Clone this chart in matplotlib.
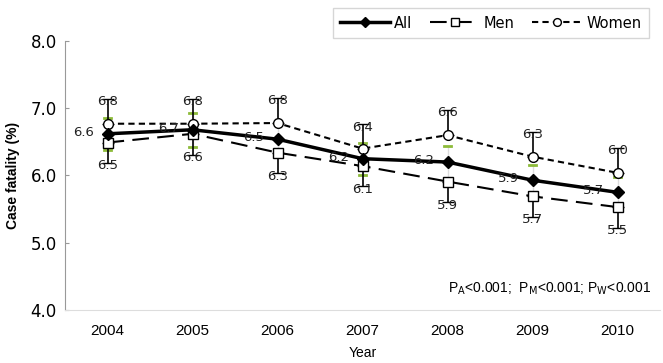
import matplotlib.pyplot as plt
import numpy as np

years = ['2004', '2005', '2006', '2007', '2008', '2009', '2010']
all_vals = [6.62, 6.68, 6.54, 6.25, 6.20, 5.93, 5.75]
men_vals = [6.49, 6.62, 6.34, 6.14, 5.91, 5.69, 5.53]
women_vals = [6.77, 6.77, 6.78, 6.40, 6.60, 6.28, 6.04]
all_labels = ['6.6', '6.7', '6.5', '6.2', '6.2', '5.9', '5.7']
men_labels = ['6.5', '6.6', '6.3', '6.1', '5.9', '5.7', '5.5']
women_labels = ['6.8', '6.8', '6.8', '6.4', '6.6', '6.3', '6.0']
all_err = [0.24, 0.25, 0.24, 0.24, 0.24, 0.23, 0.23]
men_err = [0.30, 0.31, 0.31, 0.30, 0.31, 0.30, 0.31]
women_err = [0.37, 0.37, 0.37, 0.36, 0.38, 0.37, 0.37]

x = np.arange(len(years))

fig = plt.figure(figsize=(6.63, 3.63), dpi=100)
ax = fig.add_axes([65 / 663, 1 - 310 / 363, 595 / 663, 269 / 363])

# error bars: all (both sides, green caps), men (down), women (up)
ax.errorbar(x, all_vals, yerr=all_err, fmt='none', ecolor='#dddddd', elinewidth=1,
            zorder=1)
for xi, v, e in zip(x, all_vals, all_err):
    ax.plot([xi - 0.04, xi + 0.04], [v + e, v + e], color='#8dbb3a', lw=2, zorder=1)
    ax.plot([xi - 0.04, xi + 0.04], [v - e, v - e], color='#8dbb3a', lw=2, zorder=1)
ax.errorbar(x, men_vals, yerr=[men_err, [0] * 7], fmt='none', ecolor='black',
            elinewidth=1.2, capsize=4, zorder=2)
ax.errorbar(x, women_vals, yerr=[[0] * 7, women_err], fmt='none', ecolor='black',
            elinewidth=1.2, capsize=4, zorder=2)

ax.plot(x, all_vals, color='black', lw=2.5, marker='D', markersize=6,
        markerfacecolor='black', label='All', zorder=5)
ax.plot(x, men_vals, color='black', lw=1.5, dashes=(8, 4), marker='s', markersize=7,
        markerfacecolor='white', markeredgewidth=1, label='Men', zorder=4)
ax.plot(x, women_vals, color='black', lw=1.5, dashes=(3, 2), marker='o', markersize=7,
        markerfacecolor='white', markeredgewidth=1, label='Women', zorder=4)

# data labels
for xi, v, t in zip(x, all_vals, all_labels):
    ax.annotate(t, (xi, v), xytext=(-17, 1), textcoords='offset points',
                ha='center', va='center', fontsize=9.5, color='#222222', zorder=6)
for xi, v, e, t in zip(x, men_vals, men_err, men_labels):
    ax.annotate(t, (xi, v - e), xytext=(0, -2), textcoords='offset points',
                ha='center', va='center', fontsize=9.5, color='#222222', zorder=6)
for xi, v, e, t in zip(x, women_vals, women_err, women_labels):
    ax.annotate(t, (xi, v + e), xytext=(0, -2), textcoords='offset points',
                ha='center', va='center', fontsize=9.5, color='#222222', zorder=6)

ax.set_xlim(-0.5, 6.5)
ax.set_ylim(4.0, 8.0)
ax.set_xticks(x)
ax.set_xticklabels(years, fontfamily='Liberation Sans', fontsize=11)
ax.set_yticks([4, 5, 6, 7, 8])
ax.set_yticklabels(['4.0', '5.0', '6.0', '7.0', '8.0'], fontsize=12)
ax.tick_params(axis='x', length=0, pad=10)
ax.tick_params(axis='y', length=3, direction='in', color='#999999', pad=6)
for s in ['top', 'right']:
    ax.spines[s].set_visible(False)
ax.spines['left'].set_color('#999999')
ax.spines['bottom'].set_color('#dddddd')

ax.set_ylabel('Case fatality (%)', fontfamily='Liberation Sans', fontweight='bold',
              fontsize=10)
ax.yaxis.set_label_coords(-0.075, 0.5)
ax.set_xlabel('Year', fontfamily='Liberation Sans', fontsize=10, labelpad=6)

ax.text(0.985, 0.05, r'P$_{\rm A}$<0.001;  P$_{\rm M}$<0.001; P$_{\rm W}$<0.001',
        transform=ax.transAxes, ha='right', va='bottom', fontsize=10,
        fontfamily='Liberation Sans')

fig.legend(loc='upper right', bbox_to_anchor=(656 / 663, 1 - 1 / 363), ncol=3,
           fontsize=10.5, handlelength=3.4, columnspacing=1.2, handletextpad=0.3,
           markerscale=0.8, frameon=True, fancybox=False, edgecolor='#cccccc',
           borderpad=0.5)

fig.savefig('out.png', dpi=100)
